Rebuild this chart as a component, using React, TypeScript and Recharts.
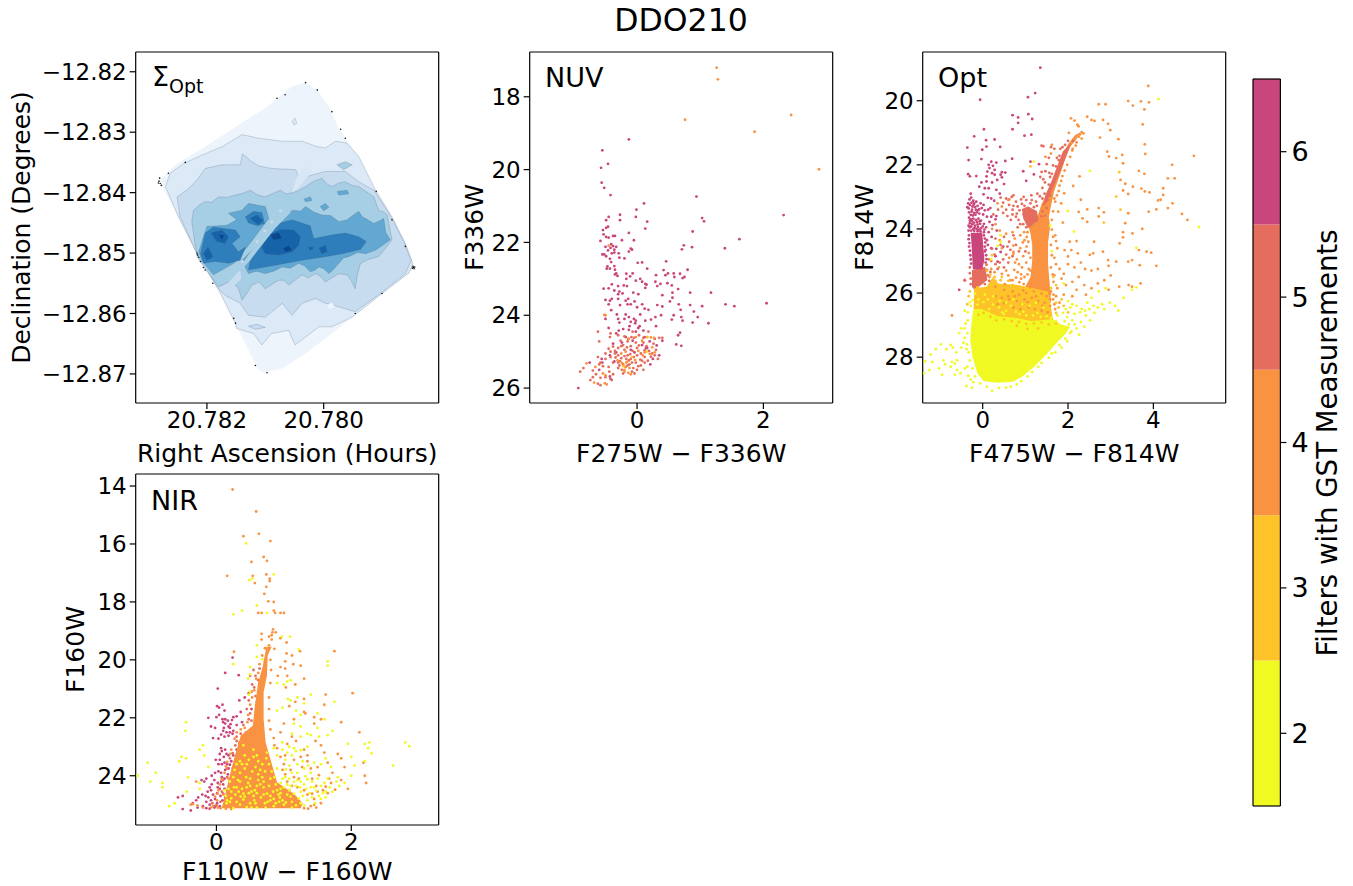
import { ScatterChart, Scatter, XAxis, YAxis, BarChart, Bar, Label } from "recharts";

const MAG = "#C9467C";
const SAL = "#E56D5D";
const ORG = "#F99341";
const AMB = "#FEC329";
const YEL = "#F0F921";
const FONT = "'DejaVu Sans', sans-serif";

// colour bar
const filterCounts = [2, 3, 4, 5, 6];
const filterColors = [YEL, AMB, ORG, SAL, MAG];

// surface density contours, as [RA - 20.78 in 1e-5 h, -(Dec + 12.8) in 1e-4 deg]
const blue1 = "#EDF4FC";
const blue2 = "#DCE9F6";
const blue3 = "#C8DCF0";
const blue4 = "#A6CEE4";
const blue5 = "#62A8D3";
const blue6 = "#2F7EBC";
const blue7 = "#1663AA";
const blue8 = "#0A468C";

const outerEdge = [31,218, 11,230, -9,258, -26,294, -54,335, -89,396, -117,440, -140,484, -154,523, -146,534, -100,567, -49,606, -14,633, 31,666, 71,691, 103,698, 114,691, 126,666, 151,617, 180,561, 203,523, 220,495, 249,440, 277,390, 280,379, 254,354, 203,324, 146,288, 100,260, 54,224];
const level2 = [263,368, 240,352, 209,338, 174,324, 140,304, 111,310, 71,315, 37,315, 11,324, -3,326, -20,315, -40,318, -60,340, -89,396, -117,440, -140,484, -153,518, -146,533, -100,567, -49,606, -14,622, 8,622, 31,639, 49,652, 60,628, 89,633, 106,652, 120,633, 149,625, 151,617, 180,561, 203,523, 220,495, 249,440, 271,390];
const level3 = [251,407, 231,393, 217,379, 203,360, 174,354, 143,354, 139,336, 123,349, 111,356, 89,360, 48,362, 40,379, 28,373, -3,365, -37,365, -60,382, -86,396, -117,443, -137,481, -150,512, -140,534, -97,567, -54,597, -26,589, -3,583, 14,575, 37,583, 54,603, 71,583, 100,606, 129,603, 143,583, 169,570, 183,556, 203,523, 220,495, 246,440];
const level4 = [226,448, 223,429, 212,420, 203,415, 192,416, 180,407, 166,408, 151,404, 138,401, 126,396, 113,404, 100,407, 86,401, 74,396, 65,402, 57,401, 44,397, 31,390, 17,381, 3,376, -6,386, -14,390, -26,384, -37,382, -49,388, -60,390, -74,399, -86,407, -90,418, -94,429, -103,432, -109,437, -113,458, -117,478, -106,492, -94,506, -78,510, -63,517, -58,535, -54,559, -47,545, -40,536, -26,534, -14,541, -3,548, 6,538, 14,534, 26,541, 37,536, 49,545, 60,553, 68,545, 77,545, 89,552, 100,559, 111,548, 123,553, 131,566, 140,578, 144,565, 147,556, 163,548, 180,556, 197,534, 217,506];
const level5Left = [214,498, 206,473, 200,456, 166,454, 149,445, 163,434, 140,429, 129,418, 100,423, 94,443, 109,462, 131,490, 154,517, 189,536, 209,512];
const level5Right = [129,534, 140,512, 111,484, 94,456, 74,440, 62,433, 51,429, 40,431, 31,423, 17,432, 3,437, -12,438, -26,448, -40,445, -52,436, -60,431, -66,440, -72,443, -86,451, -95,447, -103,443, -106,465, -114,478, -100,488, -89,495, -72,501, -58,499, -43,506, -34,508, -26,517, -17,527, -9,534, 0,526, 8,523, 16,529, 23,531, 33,521, 43,517, 57,525, 71,523, 86,530, 100,534, 115,530];
const level6Left = [203,467, 189,457, 151,462, 143,473, 157,484, 146,498, 134,490, 143,512, 163,517, 186,514, 206,517, 211,501];
const level6Isle = [134,440, 120,431, 106,433, 101,451, 114,455, 129,450];
const level6Right = [129,528, 126,514, 109,484, 89,454, 54,445, 23,455, 17,476, -14,470, -37,467, -60,473, -73,481, -63,494, -32,501, -3,506, 37,512, 83,520];
const level7a = [193,467, 174,462, 163,473, 169,484, 183,481];
const level7b = [206,501, 198,490, 190,506, 200,512];
const level7c = [126,443, 114,437, 104,446, 112,453];
const level7d = [106,490, 94,470, 74,461, 51,462, 40,473, 43,487, 54,498, 77,503, 100,501];
const level7e = [26,490, 17,491, 23,496];
const level7f = [8,492, -3,487, -6,498, 3,501];
const level8a = [180,470, 171,470, 174,478];
const level8b = [91,470, 77,466, 72,476, 86,478];
const level8c = [69,492, 60,488, 55,495, 66,498];
const chipGap = [143,523, 131,506, 111,478, 89,448, 60,429, 56,432, 83,459, 106,487, 126,512, 137,524];
const gapUpper = [56,404, 43,368, 27,356, 20,365, 37,385];
const gapLower = [143,528, 171,556, 163,564, 141,542];
const isle2 = [54,282, 49,277, 46,285, 51,288];
const isle3 = [129,621, 114,618, 100,623, 117,626];
const isle4 = [-23,354, -37,349, -49,354, -34,362];
const isle5a = [-23,398, -40,396, -43,402, -26,404];
const isle5b = [34,411, 23,407, 20,413, 31,415];
const isle5c = [6,423, -3,418, -9,424, 0,430];
const isleLight = [-6,586, -14,582, -19,589, -9,593];
const gapSpots = [114,481, 101,463, 89,448, 74,430, 139,514];
const edgeSpecks = [281,376, 282,381, 280,385, 278,388, 283,384, 217,500, 214,507, 216,503, 211,514, 206,524, 203,528, 190,550, 154,608, 151,616, -154,524, -153,522, -155,526, -152,525, -156,523, -140,489, -90,398, -117,445, -100,567, -54,600, 97,698, 31,218, 11,230, 66,238, 80,244, -14,266, -29,295, 237,350, 266,368, 117,686, -37,310];

// NUV panel, colour / magnitude pairs
const nuvOrange = [1.26,17.2, 1.28,17.52, .76,18.63, 1.86,18.96, 2.44,18.5, 2.88,19.99, -.45,22.09, -.52,23.99, -.5,24.0, -.13,24.65, -.02,24.6, .16,24.6, .22,24.61, .12,25.02, .2,25.06, -.18,25.0, -.17,25.3, -.12,25.45, -.2,25.5, -.5,25.65, -.54,25.6, -.48,25.9, -.51,25.87, -.8,25.32, -.68,25.85, -.66,25.42, -.2,25.55, -.14,25.58, -.16,25.28, -.25,25.05, .02,24.98, .08,24.7, .27,24.62, .24,24.88, .28,25.02, -.1,25.62, -.18,25.42, -.24,25.31, -.03,25.23, .09,25.1, -.31,25.24];
const nuvMagenta = [-.13,19.17, -.55,19.47, -.46,19.84, -.57,19.95, -.56,20.36, -.52,20.5, -.42,20.7, .94,20.74, .11,20.93, -.01,21.1, 2.32,21.25, 1.03,21.33, 1.06,21.42, -.45,21.3, -.27,21.24, -.02,21.3, -.49,21.39, -.27,21.39, .16,21.43, -.46,21.57, -.49,21.6, .13,21.62, -.54,21.66, .88,21.7, -.13,21.74, -.53,21.78, -.35,21.82, -.38,21.82, -.49,21.85, -.45,21.87, -.58,21.96, -.24,21.94, -.05,21.94, 1.62,21.91, .74,22.08, 1.39,22.16, .87,22.13, .71,22.19, -.08,22.2, -.1,22.17, -.13,22.25, -.41,22.05, -.38,22.1, -.42,22.15, -.36,22.2, -.33,22.12, -.5,22.12, -.46,22.22, -.52,22.33, -.55,22.33, -.49,22.38, -.4,22.3, -.36,22.28, -.29,22.3, -.28,22.42, -.2,22.44, -.43,22.45, -.41,22.54, .01,22.56, .08,22.55, .46,22.52, -.47,22.66, -.48,22.72, -.43,22.72, -.36,22.65, -.35,22.75, -.33,22.85, -.35,22.88, -.31,22.92, .16,22.72, .42,22.76, .45,22.9, .49,22.85, .58,22.85, .3,22.9, .75,22.95, .68,22.86, .72,22.98, .8,22.75, .59,22.95, -.17,22.86, -.07,22.85, -.11,22.93, -.17,23.0, .05,23.0, -.02,23.05, .08,23.08, .13,23.14, .15,23.16, .29,23.08, .32,23.2, .37,23.14, .48,23.12, .55,23.18, .65,23.28, .56,23.38, -.4,23.15, -.45,23.26, -.53,23.27, -.36,23.32, -.3,23.2, -.21,23.18, -.16,23.2, -.28,23.35, -.3,23.42, -.23,23.4, -.06,23.38, .02,23.42, .13,23.25, .4,23.45, .56,23.52, .84,23.38, 1.17,23.38, 1.4,23.7, 1.54,23.75, 2.05,23.67, -.43,23.6, -.5,23.58, -.45,23.7, -.4,23.55, -.3,23.55, -.27,23.72, -.18,23.6, -.14,23.55, -.15,23.7, -.1,23.7, -.04,23.62, 0,23.78, .08,23.7, .12,23.82, .18,23.85, .32,23.72, .4,23.76, .52,23.62, .66,23.7, .69,23.85, .9,23.9, .84,23.72, 1.03,23.75, .96,24.05, .58,24.0, .55,24.12, .7,24.05, .72,24.15, .38,24.0, .29,24.05, .22,24.12, .13,24.15, .05,23.98, -.05,24.1, -.13,24.05, -.18,23.98, -.32,23.98, -.41,23.86, -.5,24.1, -.28,24.2, -.2,24.1, -.1,24.18, -.03,24.22, 1.13,24.22, .88,24.2, -.45,24.35, -.33,24.5, -.22,24.38, -.12,24.3, .04,24.3, .1,24.42, .3,24.3, .4,24.7, .65,24.55, .68,24.48, .7,24.84, .62,24.8, -.75,25.3, -.43,25.1, -.36,25.27, -.55,25.3, -.6,25.5, -.93,26.0, -.42,25.75, -.43,25.68, -.56,25.2, .14,24.9, .35,25.1, .21,25.35, -.13,24.4, -.02,24.45, .12,24.6, .16,24.9, -.3,24.1, -.02,24.15, .02,24.35, -.24,24.75, -.33,25.02, -.1,24.95, -.04,25.02, .08,24.82, .2,24.72, .31,24.83, .25,25.2, -.38,24.78, -.18,24.6, -.29,24.42, -.07,24.7];
const nuvSalmon = [-.62,24.45, -.6,24.72, -.42,24.5, -.43,24.6, -.3,24.55, -.26,24.7, -.2,24.58, -.15,24.72, -.09,24.6, -.07,24.45, -.02,24.75, .03,24.55, .1,24.62, .1,24.75, .15,24.85, .18,24.45, .28,24.65, .35,24.62, .4,24.62, .26,24.78, .24,25.05, .28,25.1, .33,25.2, .12,24.96, .06,25.05, 0,24.9, -.1,24.85, -.16,24.88, -.2,24.95, -.25,24.85, -.3,24.9, -.35,24.98, -.42,25.0, -.45,24.92, -.5,25.05, -.5,25.2, -.42,25.15, -.35,25.05, -.3,25.1, -.25,25.18, -.2,25.12, -.15,25.1, -.1,25.2, -.05,25.15, 0,25.1, .05,25.22, .12,25.15, .17,25.25, -.58,25.3, -.54,25.4, -.62,25.15, -.6,25.35, -.45,25.42, -.38,25.3, -.3,25.3, -.22,25.35, -.15,25.38, -.08,25.3, -.02,25.3, .08,25.25, -.3,25.45, -.24,25.5, -.18,25.42, -.12,25.35, -.06,25.45, 0,25.5, .06,25.38, .1,25.5, .12,25.3, -.22,25.6, -.08,25.55, -.04,25.6, -.7,25.52, -.65,25.62, -.58,25.72, -.5,25.7, -.44,25.55, -.38,25.62, -.4,25.78, -.7,25.7, -.74,25.78, -.62,25.88, -.58,25.92, -.85,25.45, -.9,25.55, -.27,25.26, -.13,25.24, -.28,25.38, -.34,25.16, -.11,25.07, -.07,24.98, .03,24.83, .19,24.98, .22,25.14, .3,24.95, -.22,24.82, -.38,24.86, -.14,24.65, -.05,24.62, -.17,25.2, .02,25.4];
const nuvAmber = [.15,25.0, .16,24.6, -.08,25.15, -.22,25.4];

// Opt panel: the crowded parts of the diagram as filled outlines, sparse stars as pairs
const optBlock = [-.28,24.12, -.01,24.12, .04,24.97, -.01,25.26, -.23,25.26, -.25,24.76];
const optBlockBase = [-.25,25.28, .06,25.18, .11,25.59, -.19,25.91, -.25,25.8];
const optGiants = [2.28,20.98, 2.2,21.2, 2.04,21.45, 1.96,21.72, 1.86,22.12, 1.76,22.5, 1.67,22.85, 1.61,23.22, 1.55,23.63, 1.58,23.93, 1.53,24.45, 1.53,25.07, 1.57,25.7, 1.6,26.32, .98,25.85, 1.12,25.5, 1.16,25, 1.16,24.5, 1.12,24.14, 1.05,23.79, 1.28,23.63, 1.38,23.22, 1.54,22.8, 1.69,22.28, 1.85,21.76, 2,21.36, 2.16,21.08];
const optUpperBranch = [2.08,21.32, 2.02,21.53, 1.88,22, 1.77,22.36, 1.63,22.78, 1.49,23.2, 1.41,23.3, 1.47,22.94, 1.61,22.52, 1.75,22.03, 1.88,21.58];
const optClump = [.92,23.38, 1.06,23.3, 1.27,23.44, 1.31,23.72, 1.06,23.98, .95,23.67];
const optGold = [-.2,25.85, .09,25.8, .24,25.5, .36,25.7, .83,25.75, 1.53,25.95, 1.6,26.43, 1.66,26.95, -.22,26.95];
const optMain = [-.22,26.5, -.27,27.05, -.29,27.47, -.24,27.99, -.12,28.52, .03,28.75, .36,28.8, .71,28.77, .93,28.6, 1.2,28.31, 1.47,27.95, 1.71,27.59, 1.94,27.27, 2.05,27.05, 1.84,26.98, 1.65,26.82, 1.14,26.87, .75,26.77, .36,26.72, -.03,26.5];
const optMagenta = [1.35,18.97, -.06,19.97, 1.23,19.76, 1.06,19.89, .7,20.45, 1.07,20.42, 1.16,20.57, .83,20.52, .83,20.69, .7,20.89, .03,20.89, -.2,21.11, .98,21.09, 1.14,21.06, .28,21.21, .08,21.23, -.36,21.46, .41,21.44, .09,21.43, -.01,21.53, -.33,21.85, -.03,21.82, .69,21.81, .53,21.88, .2,21.9, .32,21.93, .14,22, .24,22.03, .16,22.1, .28,22.16, .11,22.21, .22,22.26, .09,22.36, .28,22.31, .45,22.23, .53,22.24, .42,22.31, .45,22.39, -.34,22.29, -.3,22.36, -.03,22.55, .09,22.52, .22,22.55, .34,22.47, .5,22.6, .05,22.73, .14,22.73, -.28,22.9, -.27,23.02, -.22,23.12, -.26,23.18, -.2,23.2, -.15,23.15, -.05,23.2, .02,23.25, .2,23.05, .27,23.12, -.24,23.3, -.18,23.32, -.12,23.28, -.08,23.38, -.02,23.35, .05,23.42, .13,23.4, .18,23.35, -.32,23.48, -.26,23.46, -.2,23.5, -.14,23.48, -.08,23.52, .01,23.55, .1,23.62, .2,23.62, .3,23.7, .32,23.6, -.32,23.65, -.28,23.7, -.22,23.68, -.16,23.72, -.1,23.68, -.04,23.74, -.3,23.82, -.24,23.85, -.18,23.9, -.12,23.86, -.06,23.84, 0,23.92, .08,23.95, -.3,23.95, -.22,24, -.14,24, -.08,24.02, .04,24.02, .1,24.35, .12,24.5, .2,24.6, .32,24.62, .42,24.72, .3,24.85, .05,24.7, .35,25.02, .48,24.55, 1.12,21.9, 1.32,21.98, -.55,25.9, -.42,25.6, 1.2,22.3, .95,22.2, 1.02,22.5, -.31,23.08, -.3,23.25, -.33,23.36, -.25,23.4, -.21,23.24, -.16,23.4, -.11,23.42, -.28,23.56, -.23,23.58, -.17,23.56, -.3,23.74, -.25,23.76, -.2,23.8, -.13,23.78, -.07,23.76, -.33,23.9, -.27,23.92, -.19,23.97, -.11,23.94, -.04,23.98, .03,23.84, -.33,24.05, -.27,24.05, -.2,24.06, -.12,24.07, -.05,24.08, .03,24.1, -.32,24.2, -.33,24.32, -.31,24.44, -.32,24.55, -.3,24.68, -.29,24.82, -.28,24.95, -.27,25.08, .03,24.2, .05,24.3, .06,24.42, .05,24.55, .07,24.65, .08,24.82, .09,24.94, .07,25.05, .16,23.78, .23,23.88, .14,24.1, .21,24.25, .33,24.05, -.08,22.68, -.15,22.35, .32,22.78, .4,22.9, .02,22.92, .12,23.03, -.34,23.2, -.36,23.32];
const optSalmon = [1.38,21.4, 1.42,21.42, 1.6,21.45, 1.68,21.5, 1.55,21.78, 1.5,21.98, 1.38,22.22, 1.35,22.38, 1.42,22.45, 1.58,22.38, 1.47,22.2, 1.72,22.05, 1.78,21.85, .68,23.0, .55,23.05, .72,22.95, .96,23.0, 1.14,22.95, 1.02,23.1, 1.15,23.1, 1.28,22.9, 1.45,22.9, 1.4,23.05, 1.12,23.2, .82,23.3, .7,23.4, .62,23.25, .55,23.4, .48,23.18, .42,23.02, .8,23.52, .78,23.62, .7,23.55, 1.4,23.45, 1.5,23.35, .62,24.4, .58,24.55, .42,24.5, .22,24.62, .3,24.3, .55,24.8, .4,25.05, .3,25.1, .2,25, .5,25.2, .78,24.5, .85,24.7, 1,24.7, .7,24.85, .14,24.95, -.42,25.6, .92,23.22, .86,23.42, .98,23.28, 1.2,23.32, 1.27,23.28, .84,23.72, .95,23.85, 1.38,23.6, 1.45,23.58, 1.55,22.62, 1.62,22.28, 1.7,22.42, 1.93,21.38, 1.87,21.45, 1.8,21.72, 2,21.25, 1.52,23.1, 1.58,22.95, -.3,25.2, -.3,25.38, -.28,25.55, .1,25.28, .12,25.45, .15,25.62, .09,25.12, .18,25.34, .05,25.72, -.28,25.72, 2.12,21.25, 1.82,21.5, 1.74,21.78, 1.65,22.02, 1.56,22.25, 1.46,22.55, 1.4,22.72, 1.34,22.98, 1.25,23.15, 1.08,23.35, .96,23.55, .88,23.85, .82,23.95, 1.02,23.95, 1.12,23.88, 1.25,23.75, .72,23.28, .62,23.08, .9,23.08, .78,23.15, .58,23.6, .48,23.5, .66,23.72, .36,23.4, .25,23.55, .72,24.2, .5,24.25, .65,24.65, .48,24.95, .6,25.05, .28,24.8, .35,25.25];
const optOrange = [.6,23.1, .35,23.2, .45,23.3, .3,23.85, .22,24, .4,24.05, .55,24.15, .7,24.1, .75,24.3, .4,24.35, .45,24.6, .62,24.9, .72,24.72, .45,25.4, .55,25.3, .38,25.2, .28,25.35, .2,25.25, .6,25.45, .65,25.6, .16,25.5, 2.02,21, 2.25,20.8, 2.22,20.75, 2.07,20.55, 2.15,20.62, 2.45,20.5, 2.55,20.6, 2.62,20.63, 2.1,21.55, 2.2,21.3, 2.28,21.05, 1.62,21.38, 1.6,21.65, 1.47,21.75, 3.88,19.54, 3.41,20.01, 3.52,20.15, 3.71,20.02, 3.9,20.05, 3.79,20.27, 2.72,20.11, 2.88,20.11, 3.75,20.74, 2.82,20.6, 2.94,20.72, 2.99,20.92, 2.75,21.15, 3.18,21.2, 3.8,21.36, 2.92,21.59, 2.96,21.74, 3.81,21.66, 3.13,21.79, 3.27,21.69, 3.29,21.95, 3.66,22.19, 3.79,22.28, 4.95,21.72, 4.44,22, 4.34,22.42, 4.5,22.42, 3.34,22.59, 3.23,22.47, 3.52,22.68, 4.23,22.73, 3.72,22.74, 3.8,22.83, 3.91,22.86, 3.29,22.8, 3.41,22.91, 4.23,22.94, 4.17,23.09, 4.11,23.11, 4.45,23.2, 4.34,23.35, 4.07,23.39, 3.89,23.46, 3.41,23.51, 4.67,23.53, 4.8,23.72, 2.72,23.35, 2.84,23.48, 2.72,23.61, 3.34,23.82, 3.74,24, 3.29,24.1, 3.51,24.14, 3.29,24.26, 3.21,24.45, 3.66,24.66, 3.84,24.71, 3.95,24.74, 3.68,25.13, 3.41,25.02, 3.5,24.97, 4.07,25.15, 3.13,25.02, 2.94,24.97, 2.82,24.71, 2.61,24.4, 2.45,23.39, 2.25,23.47, 2.34,23.67, 2.45,23.78, 2.27,22.36, 2.12,22.66, 1.91,22.89, 2.3,23.09, 1.84,23.2, 1.77,23.46, 1.88,23.8, 2.2,24.38, 2.04,24.4, 1.92,24.66, 2.08,24.66, 2,24.86, 2.23,24.76, 2.51,24.81, 2.59,24.76, 1.7,24.2, 1.75,24.6, 1.68,24.9, 1.72,25.1, 1.8,25.25, 1.9,25.4, 2,25.1, 2.15,25.2, 2.3,25.05, 2.4,25.25, 2.55,25.3, 2.7,25.25, 2.95,25.15, 3,25.45, 2.85,25.6, 2.7,25.7, 2.55,25.85, 2.38,25.75, 2.25,25.5, 2.1,25.65, 1.95,25.75, 1.85,25.55, 1.75,25.85, 1.68,25.45, 1.72,26.1, 1.9,26.05, 2.1,26.1, 2.2,25.9, 2.42,26.05, 1.65,26.2, 1.8,26.3, 3.2,25.8, 3.5,25.8, 3.7,25.7, 3.42,25.75, 2.95,25.9, -.72,26.7, .9,25.55, .72,24.78, .8,24.95, .88,24.6, .95,24.85, 1.03,24.55, 1.08,24.75, .76,25.05, .85,25.1, .92,25.2, 1.02,25.05, 1.08,25.25, .74,25.28, .82,25.35, .9,25.42, .98,25.5, 1.05,25.42, .78,25.52, .7,25.6, .86,25.66, .96,25.72, 1.07,24.4, 1.03,24.25, .98,24.35, .97,24.1, 1.05,24.1, 1.62,24.02, 1.65,24.25, 1.6,24.5, 1.62,24.82, 1.6,25.2, 1.64,25.42, 1.66,25.65, 1.52,23.85, 1.62,23.72, 1.65,23.45, 1.7,23.15, 1.74,22.95, 1.8,22.65, 1.87,22.35, 1.42,23.55, 1.3,23.9, 1.22,23.85, 1.16,24.1, 2.05,21.75, 2.11,21.5, 2.25,21.12, 2.32,20.98, 2.36,21.02, .3,25.8, .5,25.9, .7,25.95, .85,26.05, 1.02,26, 1.2,25.95, 1.38,26.02, 1.5,26.1, .45,26.15, .62,26.2, .8,26.25, .98,26.2, 1.15,26.15, 1.3,26.25, 1.45,26.3, 1.58,26.4, .35,26.35, .72,26.45, .88,26.5, 1.08,26.45, 1.22,26.5, 1.38,26.55, 1.52,26.6, 1.58,26.2, 1.12,25.82, .52,25.72, .3,26.1, .95,25.92, .88,24.2, .94,24.42, .72,24.52, 1.12,24.9, 1.12,25.3, 1.72,24.38, 1.58,26.02, 1.66,26.05, 1.68,26.35, 1.7,26.5, .6,26.1, .75,26.1, .9,26.35, 1.05,26.28, 1.25,26.1, 1.4,26.4, .5,26.32, 1.6,25.95, 1.98,22, 1.92,22.18, 1.84,22.5, 1.78,22.82, 1.68,23.05, 2.18,21.4, 2.32,21.18];
const optAmber = [1.12,22.05, 3.2,22.23, 3.13,22.99, 3.23,23.4, 2.84,23.8, 1.65,25.5, 1.72,25.75, 1.85,26.2, 1.78,26.45, 1.9,26.4, 2,26.6, 1.72,26.62, .1,25.3, .18,25.42, .28,25.5, .42,25.6, .6,25.62, .22,24.82, .45,25.5, .7,25.75, 1.6,25.85, 1.72,26.3, -.33,26.1, -.3,25.95, -.36,26.35, .02,26.62, .18,26.74, .32,26.85, .5,26.82, .68,26.88, .85,26.9, 1.02,26.96, 1.2,26.95, 1.38,26.92, 1.55,26.98, 1.3,27.1, 1.05,27.12, .8,27.02, -.1,26.68, 1.72,26.95, -.12,25.82, .3,25.62];
const optYellow = [1.2,21.9, 4.12,19.95, 5.07,23.94, 2.51,22.19, 2,23.44, 2.14,24.08, 3.6,24.59, .42,24.2, .2,24.95, .42,24.4, .35,24.52, 1.58,23.9, 1.62,24.7, 1.9,25.7, 2.0,26.25, 2.1,26.35, 2.2,26.4, 2.32,26.5, 2.45,26.3, 2.55,26.15, 2.72,25.95, 2.88,25.85, 2.6,26.4, 2.42,26.7, 2.3,26.9, 2.2,27.1, 2.08,27.2, 2.15,26.65, 2.28,26.6, 2.4,26.55, 2.5,26.5, 2.62,26.62, 2.7,26.45, 2.8,26.35, 2.85,26.5, 2.52,26.85, 2.38,27.05, 2.1,26.85, 1.98,26.75, 1.88,26.62, 1.75,26.7, 2.05,26.45, 1.95,26.5, 3.1,26.4, 2.98,26.3, 3.18,26.55, 3.3,26.15, 3.5,25.9, 3.6,25.82, 2.26,27.3, 1.98,27.5, 1.85,27.7, 1.7,27.85, -.42,26.55, -.35,26.85, -.42,27.1, -.5,27.1, -.55,27.25, -.42,27.4, -.45,27.55, -.38,27.75, -.5,27.7, -.62,27.85, -.7,27.7, -.75,27.62, -.85,27.75, -.98,27.6, -1.1,27.75, -1.22,27.92, -1.35,28.13, -1.18,28.15, -1.25,28.4, -1.38,28.5, -.92,28.1, -.88,28.22, -.95,28.55, -1.02,28.35, -.72,28.15, -.65,28.2, -.6,28.1, -.75,28.3, -.6,28.4, -.52,28.5, -.42,28.35, -.36,28.3, -.34,28.58, -.28,28.7, -.22,28.78, -.38,28.9, -.25,28.95, -.65,28.55, .22,29.05, .55,28.95, .8,28.85, 1.05,28.6, 1.3,28.3, 1.55,28.02, .05,26.05, -.1,26.2, .25,26.1, .4,26.25, .55,26.3, .72,26.2, .92,26.35, 1.1,26.4, 1.25,26.3, 1.42,26.45, .15,26.5, .55,26.55, .95,26.58, 1.28,26.62, -.18,26.02, -.24,26.22, -.12,26.36, .02,26.28, .12,26.2, .24,26.36, .38,26.44, .46,26.6, .66,26.4, .78,26.58, .86,26.66, 1.02,26.7, 1.18,26.7, 1.36,26.74, 1.5,26.72, 1.6,26.78, -.28,26.4, -.35,26.6, -.36,27.25, -.37,27.6, -.33,27.85, -.3,28.1, -.24,28.35, -.18,28.6, -.06,28.82, .1,28.92, .38,28.96, .66,28.92, .9,28.75, 1.16,28.46, 1.38,28.18, 1.62,27.88, 1.8,27.62, 1.94,27.42, 2.05,27.25, 2.16,26.98, 1.92,27.12, 1.72,27.2, 1.72,26.88, 1.92,26.88, 2.02,26.98, -.3,26.28, -.4,26.95, .5,26.66];

// NIR panel
const nirBranch = [.82,19.55, .76,19.85, .75,20.54, .7,21.12, .7,22.04, .73,22.85, .8,23.42, .9,24.23, 1.15,24.62, 1.28,24.95, 1.25,25.12, .08,25.12, .16,24.35, .26,23.42, .36,22.62, .54,22.27, .57,21.58, .62,20.77, .69,20.2, .74,19.55];
const nirMagenta = [.24,19.92, .02,20.99, .01,21.6, .04,21.65, .09,21.55, .13,20.45, .33,20.53, .34,21.4, .12,21.75, .04,21.9, 0,21.98, -.12,22, -.08,22.3, .09,22.05, .13,22.05, .17,22.1, .1,22.15, .13,22.2, .18,22.3, .21,22.22, .23,22.08, .25,21.98, .11,22.35, .1,22.45, .15,22.5, .2,22.5, .18,22.62, .12,22.65, .07,22.58, .03,22.72, -.05,22.7, -.02,22.35, .2,22.35, .24,22.55, .25,22.45, .07,23.05, .08,23.15, .05,23.25, .11,23.35, .15,23.25, .13,23.1, .18,23.3, .05,23.45, -.01,23.45, .03,23.6, .08,23.6, .12,23.55, .16,23.6, .18,23.75, .13,23.8, .07,23.9, .03,23.85, -.02,23.9, -.07,24, -.15,24.1, -.18,24.2, -.22,24.15, .08,24.05, .12,24.1, .02,24.25, -.03,24.15, -.07,24.3, .1,24.3, .12,24.45, .05,24.45, .01,24.6, -.08,24.5, -.13,24.55, -.16,24.7, -.21,24.65, -.27,24.75, -.3,24.85, -.15,24.9, -.08,24.85, -.02,24.8, .06,24.7, .1,24.62, .13,24.75, -.35,24.95, -.5,24.7, -.57,24.75, -.5,25.15, -.38,25.2, -.28,25.1, -.2,25.05, -.1,25, -.03,25.1, -.1,25.14, -.15,25.12, .3,22.25, .38,22.15, .3,21.95, .36,21.8, .42,21.3, .48,21.15, .52,21.7, .42,22.9, .3,23.1, .25,23.3, .22,23.5, .01,24.95, .05,25.05, -.05,24.65, .02,24.4, .07,24.2, -.1,24.4, .17,23.95, .2,23.62, .09,24.85, -.12,24.75, -.02,25.05];
const nirSalmon = [.64,20.3, .62,20.7, .55,20.35, .5,20.55, .56,20.95, .58,21.25, .52,21.1, .48,21.4, .45,21.7, .5,21.85, .48,22.05, .4,22.25, .36,22.55, .44,22.5, .3,22.8, .28,22.95, .36,23.05, .2,24.2, .16,24.05, .06,24.9, .2,24.6, .25,24.4, .3,23.6, .28,24, .58,20.55, .53,20.85, .6,21.45, .52,22.1, .3,22.65, .34,22.9, .24,23.22, .2,23.4, .16,23.75, .1,24.15, .08,24.55, 0,25.02, -.06,24.95];
const nirOrange = [.24,14.12, .59,14.88, .63,15.65, .4,15.73, .8,15.9, .7,16.45, .52,16.62, .75,16.58, .16,17.1, .54,17.1, .74,17.05, .79,17.2, .79,17.28, .57,17.35, .74,17.48, .71,17.72, .77,17.98, .85,18, .62,18.38, .85,18.3, .87,18.38, .95,18.38, .67,18.38, 1,18.38, .84,18.95, .83,19.05, .88,19.05, .67,19.3, .67,19.1, .78,19.2, .95,19.25, 1.04,19.4, 1.24,19.7, 1.04,19.78, 1.12,19.85, 1.75,19.7, .26,19.72, 1.02,20.05, 1.14,20.15, 1.25,20.2, .95,20.25, 1.02,20.3, .91,20.55, 1.05,20.55, 1.3,20.65, 1.03,20.95, 1.17,20.85, 1.62,21.2, 2.02,21.15, 1.3,21.35, 1.17,21.45, 1.6,21.55, 1.08,21.6, 1.3,21.8, 1.32,21.85, 1.45,21.98, 1.55,22.05, 1.85,22.15, 1.45,22.2, 1.15,22.05, 1,22.2, 2.12,22.5, 1.47,22.8, 1.55,22.95, 1.6,23.2, 1.35,23.3, 1.25,23.35, 1.15,23.45, 1.8,23.25, 2.18,23.55, 1.85,23.4, 1.65,23.55, 1.5,23.7, 1.4,23.75, 1.52,23.98, 1.67,24.1, 1.72,23.9, 1.85,24.15, 1.9,23.7, 2.2,24, 2.22,24.25, 1.95,24.45, .98,24.7, 1.5,24.55, 1.65,24.6, 1.45,24.8, 1.05,22.9, .95,22.5, -.3,24.2, -.35,24.98, -.38,25, -.05,25.05, .02,25.1, -.2,25.1, -.28,25.02, 1.45,25, 1.55,24.95, .82,19.15, .86,19.62, .72,19.6, .68,19.85, .72,20.05, .64,20.15, .8,20, .62,20.45, .81,20.35, .59,20.65, .8,20.8, .56,21.05, .78,21.3, .53,21.3, .78,21.7, .5,21.55, .78,22.1, .47,21.9, .46,22.15, .8,22.4, .42,22.35, .36,22.4, .3,22.5, .85,22.7, .27,22.72, .9,23.05, .22,23.1, .2,23.25, .95,23.35, 1,23.6, .16,23.52, .14,23.68, .12,23.9, 1.02,23.95, .08,24.12, 1.05,24.2, .05,24.3, 1.12,24.35, .03,24.5, -.02,24.72, 1.2,24.4, 1.3,24.5, 1.35,24.65, 1.42,24.62, .01,24.85, 1.4,25.05, -.08,25.1, 1.1,23.8, 1.15,24.05, 1.22,24.1, 1.27,23.7, 1.35,23.5, 1.42,24.1, 1.48,24.35, 1.58,24.5, 1.62,24.38, 1.7,24.25, 1.76,24.48, 1.3,23.1, 1.18,22.8, 1.12,22.65, .06,25.12, .14,25.14, .22,25.15, 1.3,25.12, 1.36,25.14, 1.48,25.1, .86,22.95, .98,23.8, 1.02,23.3, 1.08,24.5, .02,24.62, .1,24.65, .18,24.1, .24,23.75, .3,23.3, .34,22.85, .82,19.3, .78,19.5];
const nirYellow = [.44,15.98, .53,17.2, .49,17.25, .85,17.05, .25,18.43, .38,18.3, .6,18.12, .75,18.38, .6,19.5, .97,19.2, 1.09,19.2, .6,19.9, .68,19.98, 1.22,19.65, 1.65,20.05, 1.65,20.2, .25,20.15, .5,20.25, .5,20.5, .47,20.65, 1.05,20.75, .9,20.8, 1.0,20.85, 1.1,20.7, .48,21.2, .5,21.1, 1.06,21.35, 1.1,21.4, 1.2,21.3, 1.3,21.5, 1.4,21.2, 1.75,21.45, .98,21.65, .9,21.75, 1.18,21.75, 1.25,21.9, 1.5,21.85, 1.6,22.05, -.45,22.15, -.46,22.45, 1.15,22.2, 1.25,22.3, 1.35,22.55, 1.4,22.6, 1.5,22.35, 1.65,22.6, 1.72,22.45, 1.25,22.65, 1.12,22.55, .98,22.85, 1.08,23, 1.15,23.05, 1.25,23.12, 1.35,23.0, 1.52,22.65, 2.2,22.9, 2.27,22.85, 2.8,22.85, 2.86,22.98, 1.95,22.9, 2,23.35, 2.05,23.65, 2.3,23.22, 2.25,23.05, 2.2,23.5, 2.62,23.65, -.2,22.95, -.25,23.1, -.52,23.35, -.55,23.5, -.45,23.4, -1.02,23.55, -.9,23.9, -1.17,24.0, -.98,24.2, -.8,24.25, -.8,24.4, -.42,24.05, -.25,24.25, -.25,24.45, -.12,23.7, -.18,23.3, .3,23.6, .35,23.9, .42,23.3, .55,23.1, .62,23.5, .75,23.2, .85,23.05, .9,23.3, 1.02,23.45, 1.08,23.65, 1.2,23.6, 1.3,23.75, 1.4,23.9, 1.62,23.4, 1.7,23.7, 1.8,24.05, 2,24, 1.82,24.35, 1.9,24.25, .12,24.5, .2,24.2, .25,24.05, .3,24.9, .38,24.45, .42,24.72, .47,24.25, .5,24.95, .53,23.85, .57,24.5, .62,24.15, .66,24.75, .7,24.4, .72,24.95, .8,24.1, .84,24.55, .9,23.75, .95,24.25, .98,24.85, 1.02,24.05, 1.08,24.5, 1.12,24.9, 1.15,24.2, 1.2,23.9, 1.25,24.55, 1.3,24.3, 1.32,24.02, 1.38,24.6, 1.42,24.2, 1.45,24.4, 1.5,24.1, 1.55,24.35, 1.6,24.25, 1.62,24.75, 1.68,24.4, 1.72,24.55, 1.52,24.7, 1.35,24.85, 1.25,24.95, 1.12,25.1, .85,25.05, .6,25.1, .45,25.08, .25,25.12, .15,24.95, -.62,24.95, -.7,25.05, -.44,24.55, .4,22.95, .45,23.6, .55,23.35, .65,23.8, .78,23.6, .82,23.85, .35,24.2, .48,24.6, 1.0,25, .92,24.65, 1.1,24.72, 1.18,24.35, .28,24.65, .33,24.55, .4,24.82, .55,24.7, .6,24.35, .68,24.05, .75,24.62, .8,24.85, .88,24.3, .93,24.9, 1.05,24.3, 1.15,24.62, 1.22,24.78, 1.3,25.02, 1.18,25.02, 1.03,24.92, .73,25.1, .52,25.1, .35,25, .22,24.78, .18,24.45, .27,23.8, .35,23.5, .42,23.75, .5,24.1, .58,23.7, .72,23.85, .98,23.1, 1.05,23.2, 1.12,23.3, 1.18,23.15, 1.28,23.5, 1.36,23.65, 1.45,23.55, 1.55,23.6, 1.12,23.9, 1.03,23.78, 1.25,24.2, 1.35,24.12, 1.4,24.4, 1.48,24.52, 1.58,24.6, 1.78,24.2, 1.65,24.1, .95,24.45, .98,24.1, .85,24.8, 1.08,24.1, .14,24.7, .2,24.9, .26,24.4, .32,24.15, .36,24.72, .44,24.05, .45,24.4, .52,24.55, .56,24.85, .6,24.6, .65,24.3, .7,24.65, .76,24.9, .78,24.35, .86,24.05, .9,24.5, .94,24.75, 1,24.4, 1.05,24.65, 1.1,24.35, 1.2,24.15, 1.24,24.4, 1.28,24.7, 1.33,24.45, 1.42,24.75, 1.46,24.95, 1.55,24.8, 1.62,24.55, .4,24.62, .5,24.35, .58,24.95, .62,23.95, .7,24.2, .8,24.7, .88,24.95, .95,24.6, .38,23.6, .48,23.45, .6,23.3, .68,23.6, .74,23.4, .3,24.4, .22,24.55, .16,24.85];

type Pt = { x: number; y: number };

const toPoints = (flat: number[]): Pt[] => {
  const out: Pt[] = [];
  for (let i = 0; i < flat.length; i += 2) out.push({ x: flat[i], y: flat[i + 1] });
  return out;
};
const toSky = (flat: number[]): Pt[] =>
  toPoints(flat).map((p) => ({ x: 20.78 + p.x * 1e-5, y: -12.8 - p.y * 1e-4 }));

const noMark = () => <g />;

const outline = (fill: string, stroke: string) => (props: any) => {
  const pts = props.points || [];
  const d = pts.map((p: any, i: number) => `${i ? "L" : "M"}${p.x},${p.y}`).join("") + "Z";
  return <path d={d} fill={fill} stroke={stroke} strokeWidth={0.5} strokeOpacity={0.45} />;
};

const dots = (data: Pt[], color: string, r = 1.4, key = color) => (
  <Scatter
    key={key}
    data={data}
    xAxisId="b"
    yAxisId="l"
    isAnimationActive={false}
    shape={(p: any) => <circle cx={p.cx} cy={p.cy} r={r} fill={color} />}
  />
);

const area = (data: Pt[], fill: string, key: string, stroke = "none") => (
  <Scatter
    key={key}
    data={data}
    xAxisId="b"
    yAxisId="l"
    isAnimationActive={false}
    shape={noMark}
    line={outline(fill, stroke)}
  />
);

type PanelProps = {
  rect: [number, number];
  xDomain: [number, number];
  yDomain: [number, number];
  xTicks: number[];
  yTicks: number[];
  xFormat?: (v: number) => string;
  yFormat?: (v: number) => string;
  xReversed?: boolean;
  yReversed?: boolean;
  xLabel: string;
  xLabelDy?: number;
  yLabel: string;
  yLabelDx: number;
  children: any;
};

const W = 303;
const H = 351;
const LS = 135.7;
const RS = 10;
const TS = 10;
const BS = 64;
const tickStyle = { fontSize: 23, fill: "#000", fontFamily: FONT };
const axisBits = {
  axisLine: { stroke: "#000", strokeWidth: 1.2 },
  tickLine: { stroke: "#000", strokeWidth: 1.2 },
  tickSize: 6,
  interval: 0 as const,
  allowDataOverflow: true,
  type: "number" as const,
};
const blank = () => "";
const labelStyle = { fontSize: 25, fill: "#000", fontFamily: FONT };

function Panel(props: PanelProps) {
  const { rect, xDomain, yDomain, xTicks, yTicks, xFormat, yFormat, xReversed, yReversed, xLabel, xLabelDy = 18, yLabel, yLabelDx, children } = props;
  return (
    <div style={{ position: "absolute", left: rect[0] - LS, top: rect[1] - TS }}>
      <ScatterChart width={LS + W + RS} height={TS + H + BS} margin={{ top: 0, right: 0, bottom: 0, left: 0 }} style={{ overflow: "visible" }}>
        <XAxis {...axisBits} xAxisId="b" dataKey="x" orientation="bottom" height={BS} domain={xDomain} ticks={xTicks} reversed={xReversed} tick={tickStyle} tickMargin={3} tickFormatter={xFormat}>
          <Label value={xLabel} position="center" dy={xLabelDy} style={labelStyle} />
        </XAxis>
        <XAxis {...axisBits} xAxisId="t" dataKey="x" orientation="top" height={TS} domain={xDomain} ticks={xTicks} reversed={xReversed} tick={false} tickFormatter={blank} />
        <YAxis {...axisBits} yAxisId="l" dataKey="y" orientation="left" width={LS} domain={yDomain} ticks={yTicks} reversed={yReversed} tick={tickStyle} tickMargin={3} tickFormatter={yFormat}>
          <Label value={yLabel} position="center" angle={-90} dx={yLabelDx} style={labelStyle} />
        </YAxis>
        <YAxis {...axisBits} yAxisId="r" dataKey="y" orientation="right" width={RS} domain={yDomain} ticks={yTicks} reversed={yReversed} tick={false} tickFormatter={blank} />
        {children}
      </ScatterChart>
    </div>
  );
}

const tag = (left: number, top: number, text: any) => (
  <div style={{ position: "absolute", left, top, fontFamily: FONT, fontSize: 27, lineHeight: "30px", color: "#000", whiteSpace: "nowrap" }}>{text}</div>
);

const minus = (v: string) => v.replace("-", "\u2212");

const cbarRow: Record<string, number | string> = { name: "filters", base: 1.5 };
filterCounts.forEach((n) => {
  cbarRow["n" + n] = 1;
});

export default function App() {
  const contourStroke = "#3d5a75";
  return (
    <div style={{ position: "absolute", left: 0, top: 0, width: 1353, height: 886, background: "#fff", overflow: "hidden" }}>
      <div style={{ position: "absolute", left: 0, width: 1362, top: 1, textAlign: "center", fontFamily: FONT, fontSize: 31.5, lineHeight: "38px", color: "#000" }}>DDO210</div>

      <Panel
        rect={[135.7, 52.3]}
        xDomain={[20.77803, 20.78322]}
        yDomain={[-12.87481, -12.81673]}
        xTicks={[20.782, 20.78]}
        yTicks={[-12.87, -12.86, -12.85, -12.84, -12.83, -12.82]}
        xFormat={(v) => v.toFixed(3)}
        yFormat={(v) => minus(v.toFixed(2))}
        xReversed
        xLabel="Right Ascension (Hours)"
        yLabel="Declination (Degrees)"
        yLabelDx={-47}
      >
        {area(toSky(outerEdge), blue1, "e")}
        {area(toSky(level2), blue2, "l2", contourStroke)}
        {area(toSky(isle2), blue2, "i2", contourStroke)}
        {area(toSky(level3), blue3, "l3", contourStroke)}
        {area(toSky(isle3), blue3, "i3", contourStroke)}
        {area(toSky(isleLight), blue1, "il")}
        {area(toSky(gapUpper), "#D8E7F5", "gu")}
        {area(toSky(level4), blue4, "l4", contourStroke)}
        {area(toSky(isle4), blue4, "i4", contourStroke)}
        {area(toSky(level5Left), blue5, "l5l", contourStroke)}
        {area(toSky(level5Right), blue5, "l5r", contourStroke)}
        {area(toSky(isle5a), blue5, "i5a", contourStroke)}
        {area(toSky(isle5b), blue5, "i5b", contourStroke)}
        {area(toSky(isle5c), blue5, "i5c", contourStroke)}
        {area(toSky(level6Left), blue6, "l6l", contourStroke)}
        {area(toSky(level6Isle), blue6, "l6i", contourStroke)}
        {area(toSky(level6Right), blue6, "l6r", contourStroke)}
        {[level7a, level7b, level7c, level7d, level7e, level7f].map((p, i) => area(toSky(p), blue7, "l7" + i, contourStroke))}
        {[level8a, level8b, level8c].map((p, i) => area(toSky(p), blue8, "l8" + i))}
        {area(toSky(gapLower), blue3, "gl")}
        {area(toSky(chipGap), "#A9CFE5", "gap")}
        {dots(toSky(gapSpots), "#C8DCF0", 1.5, "spots")}
        {dots(toSky(edgeSpecks), "#111", 0.8, "specks")}
      </Panel>
      {tag(152, 62, <span>Σ<span style={{ fontSize: 19, position: "relative", top: 7 }}>Opt</span></span>)}

      <Panel
        rect={[529.3, 52.3]}
        xDomain={[-1.7, 3.097]}
        yDomain={[16.77, 26.41]}
        xTicks={[0, 2]}
        yTicks={[18, 20, 22, 24, 26]}
        yReversed
        xLabel={"F275W \u2212 F336W"}
        yLabel="F336W"
        yLabelDx={11.8}
      >
        {dots(toPoints(nuvMagenta), MAG)}
        {dots(toPoints(nuvSalmon), SAL)}
        {dots(toPoints(nuvOrange), ORG)}
        {dots(toPoints(nuvAmber), AMB)}
      </Panel>
      {tag(545, 63, "NUV")}

      <Panel
        rect={[923, 52.3]}
        xDomain={[-1.406, 5.695]}
        yDomain={[18.48, 29.43]}
        xTicks={[0, 2, 4]}
        yTicks={[20, 22, 24, 26, 28]}
        yReversed
        xLabel={"F475W \u2212 F814W"}
        yLabel="F814W"
        yLabelDx={8.8}
      >
        {area(toPoints(optGiants), ORG, "giants")}
        {area(toPoints(optClump), SAL, "clump")}
        {area(toPoints(optUpperBranch), SAL, "upper")}
        {area(toPoints(optBlockBase), SAL, "base")}
        {area(toPoints(optBlock), MAG, "block")}
        {area(toPoints(optGold), AMB, "gold")}
        {dots(toPoints(optMagenta), MAG)}
        {dots(toPoints(optSalmon), SAL)}
        {dots(toPoints(optOrange), ORG)}
        {area(toPoints(optMain), YEL, "main")}
        {dots(toPoints(optAmber), AMB)}
        {dots(toPoints(optYellow), YEL)}
      </Panel>
      {tag(938, 63, "Opt")}

      <Panel
        rect={[135.7, 473.7]}
        xDomain={[-1.197, 3.296]}
        yDomain={[13.585, 25.7]}
        xTicks={[0, 2]}
        yTicks={[14, 16, 18, 20, 22, 24]}
        yReversed
        xLabel={"F110W \u2212 F160W"}
        xLabelDy={14}
        yLabel="F160W"
        yLabelDx={7}
      >
        {dots(toPoints(nirMagenta), MAG)}
        {dots(toPoints(nirSalmon), SAL)}
        {area(toPoints(nirBranch), ORG, "branch")}
        {dots(toPoints(nirOrange), ORG)}
        {dots(toPoints(nirYellow), YEL)}
      </Panel>
      {tag(151, 486, "NIR")}

      <div style={{ position: "absolute", left: 1253.3 - 4, top: 79.3 - 2 }}>
        <BarChart width={100} height={731} data={[cbarRow]} barCategoryGap={0} margin={{ top: 0, right: 0, bottom: 0, left: 0 }}>
          <XAxis xAxisId="b" dataKey="name" orientation="bottom" height={2} tick={false} tickLine={false} axisLine={{ stroke: "#000", strokeWidth: 1.2 }} />
          <XAxis xAxisId="t" dataKey="name" orientation="top" height={2} tick={false} tickLine={false} axisLine={{ stroke: "#000", strokeWidth: 1.2 }} />
          <YAxis yAxisId="l" type="number" orientation="left" width={4} domain={[1.5, 6.5]} allowDataOverflow tick={false} tickLine={false} axisLine={{ stroke: "#000", strokeWidth: 1.2 }} />
          <YAxis yAxisId="r" type="number" orientation="right" width={68.6} domain={[1.5, 6.5]} allowDataOverflow ticks={filterCounts} interval={0} tickSize={6} tickMargin={5} tick={{ fontSize: 27, fill: "#000", fontFamily: FONT }} tickLine={{ stroke: "#000", strokeWidth: 1.2 }} axisLine={{ stroke: "#000", strokeWidth: 1.2 }} />
          <Bar dataKey="base" stackId="c" xAxisId="b" yAxisId="r" fill="none" isAnimationActive={false} />
          {filterCounts.map((n, i) => (
            <Bar key={n} dataKey={"n" + n} stackId="c" xAxisId="b" yAxisId="r" fill={filterColors[i]} isAnimationActive={false} />
          ))}
        </BarChart>
      </div>
      <div style={{ position: "absolute", left: 1327, top: 443, width: 0, height: 0 }}>
        <div style={{ position: "absolute", transform: "translate(-50%,-50%) rotate(-90deg)", whiteSpace: "nowrap", fontFamily: FONT, fontSize: 27.6, color: "#000" }}>Filters with GST Measurements</div>
      </div>
    </div>
  );
}
